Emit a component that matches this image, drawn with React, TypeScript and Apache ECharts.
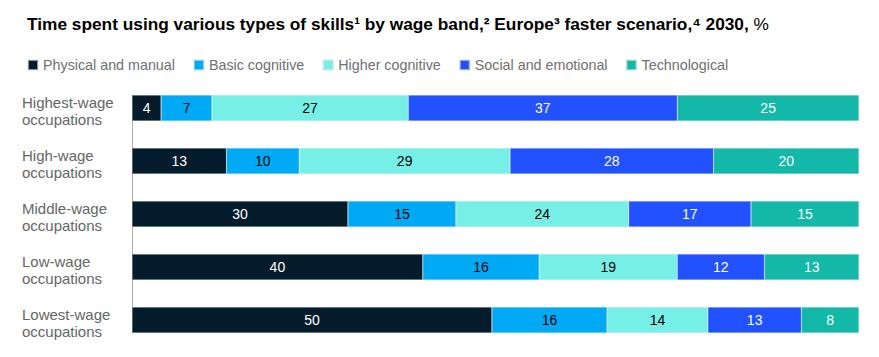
import React, { useEffect, useRef } from "react";
import * as echarts from "echarts";

const categories = [
  "Highest-wage\noccupations",
  "High-wage\noccupations",
  "Middle-wage\noccupations",
  "Low-wage\noccupations",
  "Lowest-wage\noccupations",
];
const seriesNames = [
  "Physical and manual",
  "Basic cognitive",
  "Higher cognitive",
  "Social and emotional",
  "Technological",
];
const physical = [4, 13, 30, 40, 50];
const basic = [7, 10, 15, 16, 16];
const higher = [27, 29, 24, 19, 14];
const social = [37, 28, 17, 12, 13];
const tech = [25, 20, 15, 13, 8];
const colors = ["#051c2c", "#00a9f4", "#76efe6", "#2251ff", "#14b8a8"];
const labelColors = ["#ffffff", "#000000", "#000000", "#ffffff", "#ffffff"];

const FONT = "'Liberation Sans', Arial, sans-serif";

export default function App() {
  const ref = useRef<HTMLDivElement>(null);
  useEffect(() => {
    if (!ref.current) return;
    const chart = echarts.init(ref.current, null, { renderer: "svg" });
    const all = [physical, basic, higher, social, tech];
    const sums = categories.map((_, i) => all.reduce((s, a) => s + a[i], 0));
    const series: any[] = all.map((arr, si) => ({
      name: seriesNames[si],
      type: "bar",
      stack: "total",
      barWidth: 26,
      xAxisIndex: 0,
      yAxisIndex: 0,
      itemStyle: {
        color: colors[si],
        borderColor: "rgba(220,230,235,0.6)",
        borderWidth: 0.5,
      },
      label: {
        show: true,
        position: "inside",
        color: labelColors[si],
        fontSize: 14,
        fontFamily: FONT,
        formatter: (p: any) => String(arr[p.dataIndex]),
      },
      data: arr.map((v, i) => (v / sums[i]) * 100),
    }));
    const lab = { fontSize: 15, lineHeight: 16.5, color: "#666666", fontFamily: FONT };
    chart.setOption({
      animation: false,
      title: {
        left: 22,
        top: 10,
        text: "{b|Time spent using various types of skills¹ by wage band,² Europe³ faster scenario,⁴ 2030,}{n| %}",
        textStyle: {
          rich: {
            b: { fontSize: 17.3, fontWeight: "bold", color: "#000", fontFamily: FONT },
            n: { fontSize: 17.3, fontWeight: "normal", color: "#000", fontFamily: FONT },
          },
        },
      },
      legend: {
        left: 22,
        top: 53,
        icon: "rect",
        itemWidth: 10,
        itemHeight: 10,
        itemGap: 18,
        textStyle: { fontSize: 14.3, color: "#707070", fontFamily: FONT },
        data: seriesNames,
      },
      grid: [
        { left: 132, right: 20, top: 81.5, bottom: 10.5 },
        { left: 132, width: 10, top: 95, height: 238 },
      ],
      xAxis: [
        { type: "value", gridIndex: 0, min: 0, max: 100, show: false },
        { type: "value", gridIndex: 1, min: 0, max: 1, show: false },
      ],
      yAxis: [
        {
          type: "category",
          gridIndex: 0,
          inverse: true,
          data: categories,
          axisLine: { show: false },
          axisTick: { show: false },
          axisLabel: {
            align: "left",
            margin: 110,
            ...lab,
            formatter: (v: string) => {
              const [a, b] = v.split("\n");
              return `{s| }\n{b|${a}}\n{b|${b}}`;
            },
            rich: {
              s: { fontSize: 1, lineHeight: 6, fontFamily: FONT },
              b: { ...lab },
            },
          },
        },
        {
          type: "category",
          gridIndex: 1,
          data: [""],
          axisLine: { show: true, lineStyle: { color: "#b0b0b0", width: 1 } },
          axisTick: { show: false },
          axisLabel: { show: false },
        },
      ],
      series,
    });
    return () => chart.dispose();
  }, []);
  return <div ref={ref} style={{ width: 879, height: 357, margin: -8 }} />;
}
